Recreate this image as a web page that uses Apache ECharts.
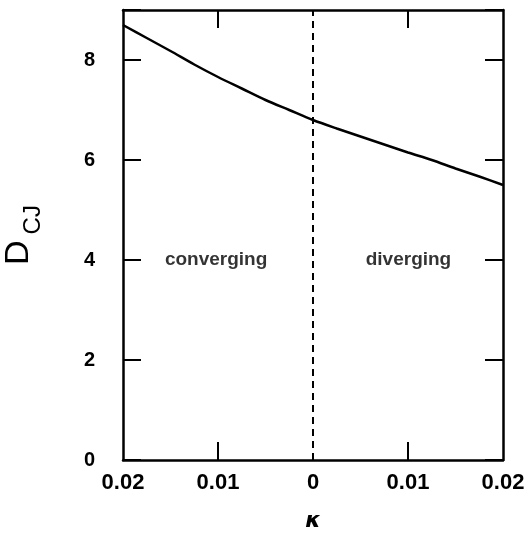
<!DOCTYPE html>
<html><head><meta charset="utf-8">
<script src="https://cdn.jsdelivr.net/npm/echarts@6/dist/echarts.min.js"></script>
<style>html,body{margin:0;padding:0;background:#fff}#c{width:530px;height:533px}</style>
</head><body><div id="c"></div>
<script>
const kappa = [-0.02,-0.0175,-0.015,-0.0125,-0.01,-0.0075,-0.005,-0.0025,0,0.0025,0.005,0.0075,0.01,0.0125,0.015,0.0175,0.02];
const dcj   = [8.7,8.44,8.18,7.91,7.66,7.43,7.2,7.0,6.8,6.63,6.47,6.31,6.15,6.0,5.83,5.67,5.5];
const xTickLabels = [-0.02,-0.01,0,0.01,0.02];
const xTickMarks = [-0.01,0.01];
const yTicks = [0,2,4,6,8];
const dividerX = 0;
const regionLabels = ['converging','diverging'];
const regionPos = [[-0.0102,4],[0.01005,4]];

const chart = echarts.init(document.getElementById('c'));
const fontBold = {fontFamily:'Liberation Sans, Arial, sans-serif', fontWeight:'bold', color:'#000'};
const frameLine = {show:true,onZero:false,lineStyle:{color:'#000',width:2.5}};
const tickStyle = {show:true,inside:true,length:18,lineStyle:{color:'#000',width:2}};
const xTickStyle = Object.assign({customValues:xTickMarks},tickStyle);
chart.setOption({
  animation:false,
  backgroundColor:'#fff',
  grid:{left:123,right:27,top:10,bottom:73,containLabel:false,outerBoundsMode:'none'},
  xAxis:[{
    type:'value',min:-0.02,max:0.02,interval:0.01,
    axisLine:frameLine,
    axisTick:xTickStyle,
    splitLine:{show:false},
    axisLabel:Object.assign({fontSize:22,margin:12,customValues:xTickLabels,formatter:v=>{const a=Math.abs(v);return a<1e-9?'0':a.toFixed(2);}},fontBold),
    name:'κ',nameLocation:'middle',nameGap:50,
    nameTextStyle:{fontFamily:'DejaVu Sans, sans-serif',fontStyle:'italic',fontWeight:'bold',fontSize:22,color:'#000'}
  },{
    type:'value',position:'top',min:-0.02,max:0.02,interval:0.01,
    axisLine:frameLine,
    axisTick:xTickStyle,
    axisLabel:{show:false},splitLine:{show:false}
  }],
  yAxis:[{
    type:'value',min:0,max:9,interval:2,
    axisLine:frameLine,
    axisTick:tickStyle,
    splitLine:{show:false},
    axisLabel:Object.assign({fontSize:20,margin:28,customValues:yTicks},fontBold),
    name:'{d|D}{s|CJ}',nameLocation:'middle',nameGap:78,
    nameTextStyle:{
      rich:{
        d:{fontFamily:'Liberation Sans, Arial, sans-serif',fontSize:34,color:'#000',padding:[0,6,0,0]},
        s:{fontFamily:'Liberation Sans, Arial, sans-serif',fontSize:24,color:'#000',verticalAlign:'bottom',padding:[28,0,0,0]}
      }
    }
  },{
    type:'value',position:'right',min:0,max:9,interval:2,
    axisLine:frameLine,
    axisTick:tickStyle,
    axisLabel:{show:false},splitLine:{show:false}
  }],
  series:[{
    type:'line',data:kappa.map((k,i)=>[k,dcj[i]]),smooth:0.3,symbol:'none',
    lineStyle:{color:'#000',width:2.5}
  },{
    type:'line',data:[[dividerX,0],[dividerX,9]],symbol:'none',
    lineStyle:{color:'#000',width:2,type:[7,5]}
  },{
    type:'scatter',symbolSize:0,data:regionPos.map((p,i)=>({value:p,name:regionLabels[i]})),
    label:Object.assign({show:true,position:'inside',formatter:p=>p.name,fontSize:19},fontBold,{color:'#000'})
  }]
});
</script></body></html>
